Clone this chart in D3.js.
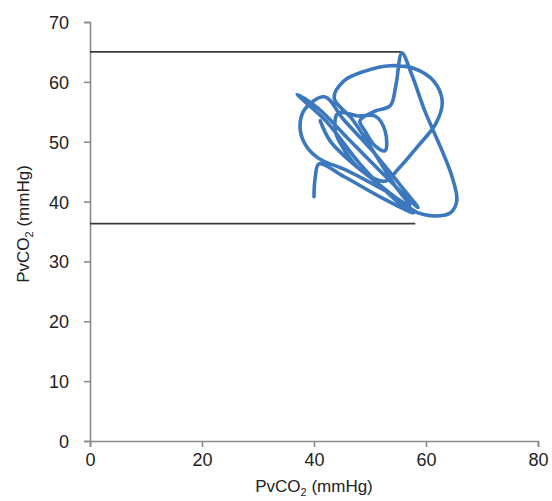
<!DOCTYPE html>
<html>
<head>
<meta charset="utf-8">
<script src="https://cdn.jsdelivr.net/npm/d3@7"></script>
<style>
  body { margin: 0; background: #fff; }
  text { font-family: "Liberation Sans", Arial, sans-serif; }
</style>
</head>
<body>
<div id="chart"></div>
<script>
// trace of the loop (PvCO2 x, PvCO2 y)
let loopX = [40.0, 40.2, 40.9, 45.5, 51.8, 57.7, 54.5, 48.2, 42.1, 37.0,
    40.7, 46.1, 51.4, 56.8, 58.6, 55.7, 50.4, 45.2, 41.9, 38.4,
    37.5, 38.4, 40.7, 46.1, 52.7, 57.1, 54.5, 50.0, 46.8, 43.6,
    45.4, 49.1, 53.6, 58.0, 61.3, 62.9, 61.8, 58.6, 55.0, 52.7,
    48.6, 45.5, 43.8, 44.3, 47.9, 50.9, 52.7, 52.7, 50.9, 49.1,
    48.2, 50.9, 53.6, 54.6, 55.7, 57.5, 59.8, 62.5, 64.6, 65.5,
    64.3, 61.6, 58.6, 55.4, 50.9, 46.4, 42.9, 41.1];
let loopY = [40.8, 43.9, 46.3, 44.1, 40.8, 38.1, 40.3, 46.3, 53.5, 57.9,
    55.6, 50.5, 45.5, 40.5, 39.0, 42.4, 48.5, 53.8, 57.5, 55.5,
    52.6, 49.6, 47.3, 45.1, 41.8, 39.3, 42.6, 49.3, 53.8, 57.3,
    60.2, 61.8, 62.7, 62.2, 60.2, 56.8, 53.1, 49.3, 45.4, 43.4,
    45.1, 48.5, 51.8, 54.8, 54.3, 54.3, 51.8, 48.5, 49.3, 51.8,
    53.5, 55.1, 56.0, 59.3, 64.8, 61.1, 55.1, 49.3, 44.3, 40.1,
    38.1, 37.6, 38.1, 40.1, 43.4, 46.8, 50.1, 53.5];

// the two reference lines
let refY = [65, 36.3];
let refEnd = [55.6, 58.1];

let xTicks = [0, 20, 40, 60, 80];
let yTicks = [0, 10, 20, 30, 40, 50, 60, 70];

var w = 552, h = 501;
var margin = { left: 90, top: 22, right: 14, bottom: 60 };

var svg = d3.select('#chart').append('svg')
    .attr('width', w).attr('height', h);

var x = d3.scaleLinear().domain([0, 80]).range([margin.left, 538]);
var y = d3.scaleLinear().domain([0, 70]).range([441, margin.top]);

// axes
var xAxis = svg.append('g').attr('transform', 'translate(0,441)')
    .call(d3.axisBottom(x).tickValues(xTicks).tickSize(6).tickPadding(6));
var yAxis = svg.append('g').attr('transform', 'translate(' + margin.left + ',0)')
    .call(d3.axisLeft(y).tickValues(yTicks).tickSize(6).tickPadding(15));

[xAxis, yAxis].forEach(a => {
    a.select('.domain').attr('stroke', '#8a8a8a').attr('stroke-width', 1.6);
    a.selectAll('.tick line').attr('stroke', '#8a8a8a').attr('stroke-width', 1.6);
    a.selectAll('.tick text').attr('fill', '#222').style('font-size', '18px')
        .style('font-family', '"Liberation Sans", Arial, sans-serif');
});
yAxis.selectAll('.tick text').attr('dy', '0.36em');

// horizontal reference lines
svg.selectAll('.ref').data(refY).enter().append('line')
    .attr('class', 'ref')
    .attr('x1', x(0)).attr('x2', (d, i) => x(refEnd[i]))
    .attr('y1', d => y(d)).attr('y2', d => y(d))
    .attr('stroke', '#3a3a3a').attr('stroke-width', 1.8);

// loop
var pts = loopX.map((v, i) => [v, loopY[i]]);
var line = d3.line().x(d => x(d[0])).y(d => y(d[1])).curve(d3.curveCatmullRom.alpha(0.5));
svg.append('path').datum(pts)
    .attr('d', line)
    .attr('fill', 'none')
    .attr('stroke', '#3b78bd')
    .attr('stroke-width', 3.6)
    .attr('stroke-linejoin', 'round')
    .attr('stroke-linecap', 'round');

// axis titles
var xt = svg.append('text').attr('x', 314).attr('y', 492)
    .attr('text-anchor', 'middle').attr('fill', '#222').style('font-size', '17px');
xt.append('tspan').text('PvCO');
xt.append('tspan').attr('dy', 4).style('font-size', '11px').text('2');
xt.append('tspan').attr('dy', -4).text(' (mmHg)');

var yt = svg.append('text').attr('transform', 'translate(29,224) rotate(-90)')
    .attr('text-anchor', 'middle').attr('fill', '#222').style('font-size', '17px');
yt.append('tspan').text('PvCO');
yt.append('tspan').attr('dy', 4).style('font-size', '11px').text('2');
yt.append('tspan').attr('dy', -4).text(' (mmHg)');
</script>
</body>
</html>
